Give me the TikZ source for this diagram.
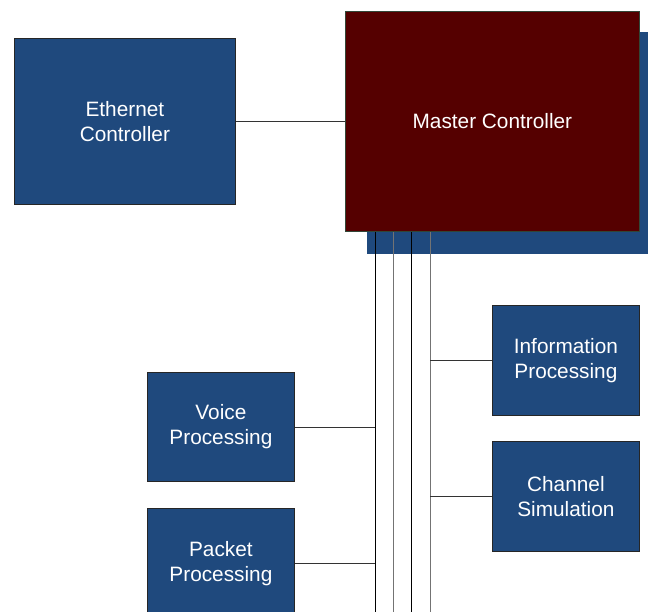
\documentclass[tikz,border=0pt]{standalone}
\usepackage{fontspec}
\setmainfont{Liberation Sans}
\definecolor{boxblue}{RGB}{31,73,125}
\definecolor{mred}{RGB}{85,0,0}
\definecolor{mborder}{RGB}{50,70,55}
\begin{document}
\begin{tikzpicture}[x=1pt,y=-1pt,
  box/.style={draw=black!85,line width=0.8pt,fill=boxblue,text=white,align=center,
    font=\fontsize{20.8}{25}\selectfont,anchor=north west,inner sep=0pt},
  bus/.style={line width=1pt},
  busg/.style={line width=1pt,draw=black!55},
  link/.style={line width=0.8pt,draw=black!80}]
\useasboundingbox (0,0) rectangle (648,612);
\clip (0,0) rectangle (648,612);
\fill[boxblue] (367,32) rectangle (670,254);
\node[box,minimum width=221pt,minimum height=166pt] (eth) at (14,38) {Ethernet\\Controller};
\node[box,fill=mred,draw=mborder,minimum width=294pt,minimum height=220pt] (master) at (345,11) {Master Controller};
\node[box,minimum width=147pt,minimum height=110pt] (info) at (492,305) {Information\\Processing};
\node[box,minimum width=147pt,minimum height=110pt] (chan) at (492,441) {Channel\\Simulation};
\node[box,minimum width=147pt,minimum height=109pt] (voice) at (147,372) {Voice\\Processing};
\node[box,minimum width=147pt,minimum height=110pt] (pack) at (147,508) {Packet\\Processing};
\coordinate (b1) at (375,620);
\coordinate (b2) at (393,620);
\coordinate (b3) at (411,620);
\coordinate (b4) at (430,620);
\draw[bus] (master.south -| b1) -- (b1);
\draw[busg] (master.south -| b2) -- (b2);
\draw[bus] (master.south -| b3) -- (b3);
\draw[busg] (master.south -| b4) -- (b4);
\draw[link] (eth.east) -- (master.west |- eth.east);
\draw[link] (voice.east) -- (voice.east -| b1);
\draw[link] (pack.east |- 0,563) -- (b1 |- 0,563);
\draw[link] (info.west) -- (info.west -| b4);
\draw[link] (chan.west) -- (chan.west -| b4);
\end{tikzpicture}
\end{document}
